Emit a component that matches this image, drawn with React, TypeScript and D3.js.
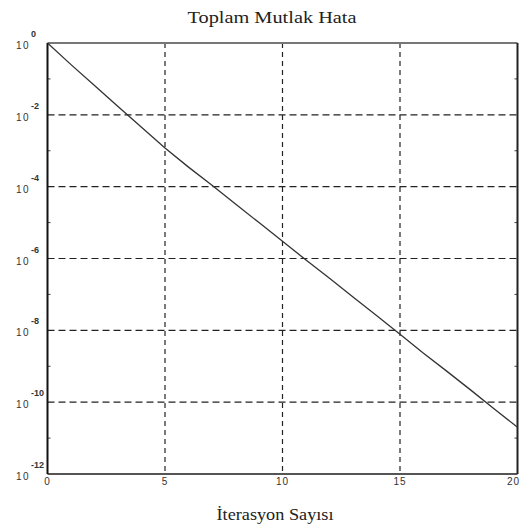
import React from "react";
import * as d3 from "d3";

const iterations = [0,1,2,3,4,5,6,7,8,9,10,11,12,13,14,15,16,17,18,19,20];
const errors = [1, 2.5e-1, 6.6e-2, 1.7e-2, 4.5e-3, 1.2e-3, 3.5e-4, 1.1e-4, 3.3e-5, 1.0e-5, 3.0e-6, 9.1e-7, 2.8e-7, 8.5e-8, 2.6e-8, 7.8e-9, 2.3e-9, 7.2e-10, 2.2e-10, 6.6e-11, 2.0e-11];
const xTicks = [0, 5, 10, 15, 20];
const yTickExps = [0, -2, -4, -6, -8, -10, -12];
const yMinorExps = [-1, -3, -5, -7, -9, -11];
const title = "Toplam Mutlak Hata";
const xLabel = "İterasyon Sayısı";

const W = 521, H = 531;
const L = 47.5, R = 517.5, T = 43, B = 474;

export default function App() {
  const x = d3.scaleLinear().domain([0, 20]).range([L, R]);
  const y = d3.scaleLog().domain([1e-12, 1]).range([B, T]);
  const line = d3.line<number>().x((_, i) => x(iterations[i])).y((d) => y(d));
  const sans = "Liberation Sans, Arial, sans-serif";
  return (
    <svg width={W} height={H} style={{ position: "absolute", left: 0, top: 0, background: "#fff" }}>
      {xTicks.slice(1, -1).map((t) => (
        <line key={"gx" + t} x1={x(t)} x2={x(t)} y1={T} y2={B} stroke="#222" strokeWidth={1.2} strokeDasharray="5,4" />
      ))}
      {yTickExps.slice(1, -1).map((e) => (
        <line key={"gy" + e} x1={L} x2={R} y1={y(Math.pow(10, e))} y2={y(Math.pow(10, e))} stroke="#222" strokeWidth={1.2} strokeDasharray="7,4" />
      ))}
      {yMinorExps.map((e) => (
        <g key={"mt" + e}>
          <line x1={L} x2={L + 3} y1={y(Math.pow(10, e))} y2={y(Math.pow(10, e))} stroke="#444" />
          <line x1={R} x2={R - 3} y1={y(Math.pow(10, e))} y2={y(Math.pow(10, e))} stroke="#444" />
        </g>
      ))}
      <line x1={L} x2={R} y1={T} y2={T} stroke="#777" strokeWidth={2} />
      <line x1={L} x2={R} y1={B} y2={B} stroke="#555" strokeWidth={2} />
      <line x1={L} x2={L} y1={T} y2={B} stroke="#111" strokeWidth={2} />
      <line x1={R} x2={R} y1={T} y2={B} stroke="#222" strokeWidth={2} />
      <path d={line(errors) || ""} fill="none" stroke="#333" strokeWidth={1.3} />
      {xTicks.map((t, i) => (
        <text key={"xl" + t} x={i === xTicks.length - 1 ? W - 1 : x(t)} y={485}
          textAnchor={i === xTicks.length - 1 ? "end" : "middle"} fontFamily={sans} fontSize={10} fill="#333" letterSpacing={1}>
          {t}
        </text>
      ))}
      {yTickExps.map((e) => {
        const yy = y(Math.pow(10, e));
        return (
          <g key={"yl" + e}>
            <text x={30} y={yy + 6} textAnchor="end" fontFamily={sans} fontSize={10} fill="#333" letterSpacing={1.5}>10</text>
            <text x={31} y={yy - 6} textAnchor="start" fontFamily={sans} fontSize={9} fontWeight="bold" fill="#333">{e}</text>
          </g>
        );
      })}
      <text x={272} y={23} textAnchor="middle" fontFamily="Liberation Serif, Times New Roman, serif" fontSize={17} fill="#222" textLength={169} lengthAdjust="spacingAndGlyphs">
        {title}
      </text>
      <text x={275} y={520} textAnchor="middle" fontFamily="Liberation Serif, Times New Roman, serif" fontSize={17} fill="#222" textLength={117} lengthAdjust="spacingAndGlyphs">
        {xLabel}
      </text>
    </svg>
  );
}
